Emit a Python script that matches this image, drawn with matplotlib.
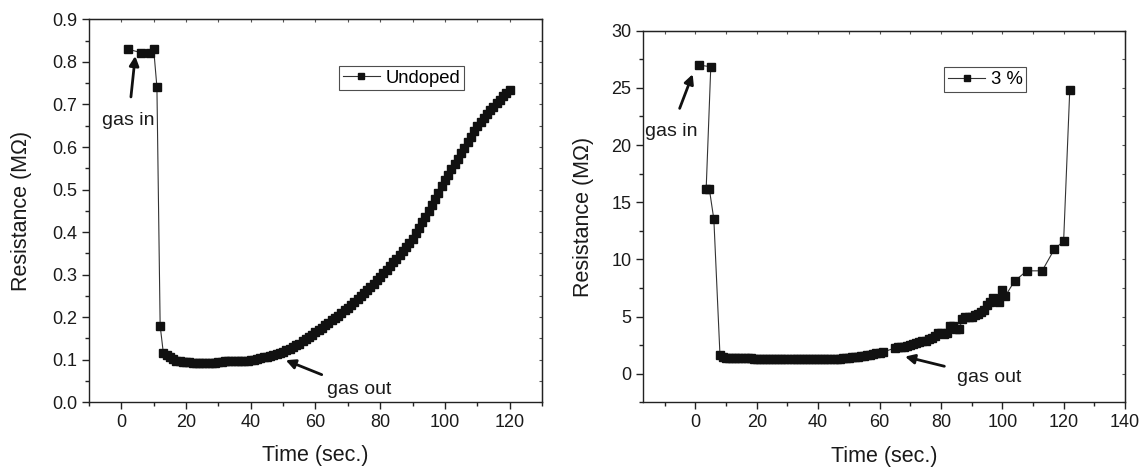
import matplotlib
matplotlib.use("Agg")
import matplotlib.pyplot as plt
from matplotlib.ticker import MultipleLocator, FormatStrFormatter

plt.rcParams['font.family'] = ['Liberation Sans', 'DejaVu Sans']

# Undoped sensor: resistance (MOhm) vs time (s)
t_undoped = [2, 6, 9, 10, 11, 12] + list(range(13, 121))
r_undoped = [0.830, 0.822, 0.820, 0.830, 0.741, 0.180,
             0.115, 0.112, 0.106, 0.101, 0.098, 0.096, 0.095, 0.094, 0.094, 0.093,
             0.093, 0.093, 0.093, 0.092, 0.092, 0.092, 0.093, 0.094, 0.095, 0.096,
             0.096, 0.096, 0.096, 0.096, 0.096, 0.097, 0.098, 0.099, 0.100, 0.102,
             0.104, 0.106, 0.107, 0.109, 0.111, 0.113, 0.115, 0.118, 0.122, 0.126,
             0.130, 0.134, 0.138, 0.143, 0.148, 0.153, 0.159, 0.165, 0.170, 0.175,
             0.181, 0.187, 0.193, 0.198, 0.204, 0.210, 0.216, 0.222, 0.228, 0.235,
             0.242, 0.249, 0.256, 0.263, 0.271, 0.279, 0.287, 0.295, 0.303, 0.312,
             0.320, 0.329, 0.338, 0.347, 0.356, 0.366, 0.375, 0.385, 0.398, 0.410,
             0.423, 0.436, 0.450, 0.464, 0.478, 0.493, 0.508, 0.522, 0.535, 0.548,
             0.560, 0.572, 0.585, 0.598, 0.611, 0.624, 0.637, 0.650, 0.659, 0.668,
             0.677, 0.686, 0.695, 0.703, 0.711, 0.719, 0.727, 0.735]

# 3 % doped sensor
t_doped = [1, 5, 3.5, 4.5, 6, 8] + list(range(9, 62)) + \
          [65, 66, 67, 68, 69, 70, 71, 72, 73, 74, 75, 76, 77, 78, 79, 80, 81, 82,
           83, 84, 85, 86, 87, 88, 89, 90, 91, 92, 93, 94, 95, 96, 97, 98, 99, 100,
           101, 104, 108, 113, 117, 120, 122]
r_doped = [27.0, 26.85, 16.2, 16.2, 13.5, 1.6,
           1.45, 1.40, 1.40, 1.40, 1.38, 1.37, 1.36, 1.35, 1.35, 1.34, 1.33, 1.33,
           1.32, 1.31, 1.30, 1.30, 1.29, 1.29, 1.29, 1.29, 1.29, 1.29, 1.29, 1.29,
           1.29, 1.29, 1.29, 1.29, 1.29, 1.29, 1.29, 1.29, 1.29, 1.29, 1.29, 1.29,
           1.30, 1.31, 1.33, 1.35, 1.38, 1.40, 1.43, 1.46, 1.50, 1.54, 1.58, 1.62,
           1.67, 1.72, 1.77, 1.82, 1.88,
           2.25, 2.30, 2.30, 2.35, 2.40, 2.50, 2.60, 2.70, 2.80, 2.85, 2.90, 3.00,
           3.10, 3.30, 3.60, 3.60, 3.50, 3.60, 4.20, 4.20, 3.90, 3.90, 4.80, 5.00,
           5.00, 5.00, 5.10, 5.20, 5.40, 5.60, 6.00, 6.30, 6.60, 6.50, 6.30, 7.30,
           6.80, 8.10, 9.00, 9.00, 10.90, 11.60, 24.80]

fig = plt.figure(figsize=(11.42, 4.67), dpi=100)
ax1 = fig.add_axes([0.0779, 0.1385, 0.3967, 0.820])
ax2 = fig.add_axes([0.5633, 0.1385, 0.4218, 0.7957])

tick_fs = 13
label_fs = 15.5
note_fs = 14
txt = '#1a1a1a'


def style(ax, xmaj, xmin, ymaj, ymin):
    ax.xaxis.set_major_locator(MultipleLocator(xmaj))
    ax.xaxis.set_minor_locator(MultipleLocator(xmin))
    ax.yaxis.set_major_locator(MultipleLocator(ymaj))
    ax.yaxis.set_minor_locator(MultipleLocator(ymin))
    ax.tick_params(which='major', direction='out', length=5, width=1, labelsize=tick_fs,
                   colors='#222222', labelcolor=txt)
    ax.tick_params(which='minor', direction='out', length=3, width=1, colors='#222222')
    for s in ax.spines.values():
        s.set_linewidth(1.0)
        s.set_color('#222222')
    # small inward ticks on top and right, like Origin
    top = ax.secondary_xaxis('top')
    top.xaxis.set_major_locator(MultipleLocator(xmin))
    top.tick_params(direction='in', length=2.5, width=0.8, labeltop=False, colors='#555555')
    right = ax.secondary_yaxis('right')
    right.yaxis.set_major_locator(MultipleLocator(ymin))
    right.tick_params(direction='in', length=2.5, width=0.8, labelright=False, colors='#555555')


def add_legend(ax, anchor):
    leg = ax.legend(loc='upper left', bbox_to_anchor=anchor, borderaxespad=0,
                    fontsize=13.3, frameon=True, fancybox=False, edgecolor='#222222',
                    handlelength=2.0, handletextpad=0.3, borderpad=0.2, markerscale=0.8)
    leg.get_frame().set_linewidth(0.8)


def labels(ax, xy_x, xy_y):
    ax.set_xlabel('Time (sec.)', fontsize=label_fs, color=txt, va='center')
    ax.set_ylabel('Resistance (M\u03a9)', fontsize=label_fs, color=txt, va='center')
    ax.xaxis.set_label_coords(0.5, xy_x)
    ax.yaxis.set_label_coords(xy_y, 0.5)


arrow = dict(arrowstyle='-|>', color='#111111', lw=2, mutation_scale=14, shrinkB=0)

# left panel
ax1.plot(t_undoped, r_undoped, color='#333333', lw=0.8, marker='s', ms=5.8,
         mfc='#111111', mec='#111111', label='Undoped')
ax1.set_xlim(-10, 130)
ax1.set_ylim(0, 0.9)
style(ax1, 20, 10, 0.1, 0.05)
ax1.yaxis.set_major_formatter(FormatStrFormatter('%.1f'))
labels(ax1, -0.140, -0.150)
add_legend(ax1, (0.552, 0.878))
ax1.annotate('gas in', xy=(4.3, 0.814), xytext=(2.2, 0.662), fontsize=note_fs,
             ha='center', va='center', color=txt, arrowprops=dict(arrow, shrinkA=9))
ax1.annotate('gas out', xy=(50.8, 0.099), xytext=(73.4, 0.030), fontsize=note_fs,
             ha='center', va='center', color=txt, arrowprops=dict(arrow, shrinkA=7))

# right panel
ax2.plot(t_doped, r_doped, color='#333333', lw=0.8, marker='s', ms=5.8,
         mfc='#111111', mec='#111111', label='3 %')
ax2.set_xlim(-17, 140)
ax2.set_ylim(-2.5, 30)
style(ax2, 20, 10, 5, 2.5)
labels(ax2, -0.1445, -0.125)
add_legend(ax2, (0.625, 0.9015))
ax2.annotate('gas in', xy=(-0.9, 26.2), xytext=(-8.0, 21.2), fontsize=note_fs,
             ha='center', va='center', color=txt, arrowprops=dict(arrow, shrinkA=9))
ax2.annotate('gas out', xy=(68.3, 1.5), xytext=(95.6, -0.3), fontsize=note_fs,
             ha='center', va='center', color=txt, arrowprops=dict(arrow, shrinkA=7))

fig.savefig('out.png', dpi=100)
